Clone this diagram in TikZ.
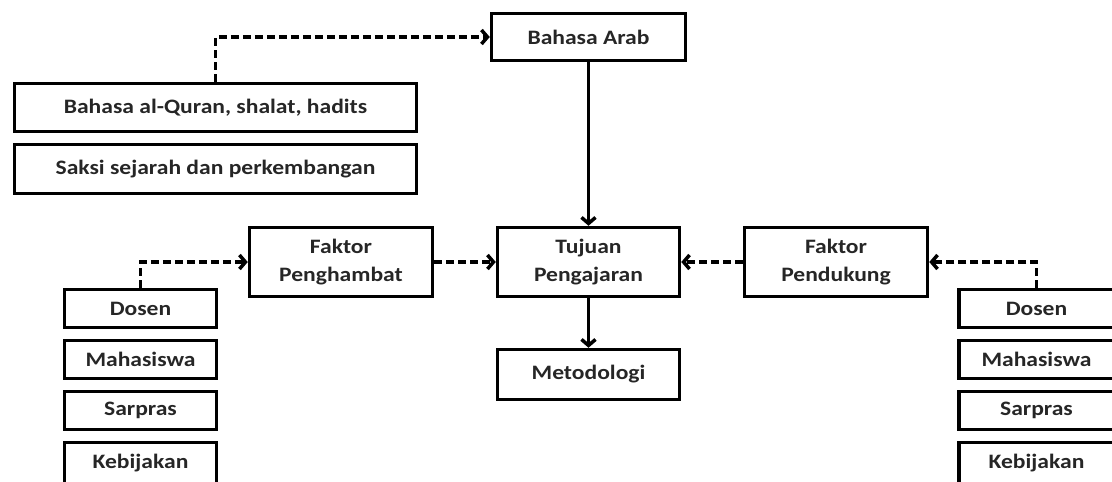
\documentclass[tikz,border=0pt]{standalone}
\usepackage{fontspec}
\setmainfont[FakeStretch=1.15, UprightFont=* Bold]{Carlito}
\usetikzlibrary{arrows.meta}
\begin{document}
\begin{tikzpicture}[x=1pt,y=-1pt,
  box/.style={draw=black, line width=3.5pt, rectangle, inner sep=0pt, align=center,
    font=\fontsize{20.5}{28}\selectfont, text=black!85},
  dashconn/.style={draw=black, line width=3.5pt, dash pattern=on 8pt off 4pt,
    -{Straight Barb[length=6pt,width=14pt,line width=3.5pt]}},
  solidconn/.style={draw=black, line width=3.5pt,
    -{Straight Barb[length=6pt,width=14pt,line width=3.5pt]}}]
\useasboundingbox (0,0) rectangle (1112,482);
\clip (0,0) rectangle (1112,482);
% main column
\node[box, minimum width=194pt, minimum height=47pt] (arab) at (588.5,37) {Bahasa Arab};
\node[box, minimum width=182pt, minimum height=69pt] (tujuan) at (588.5,262) {Tujuan\\Pengajaran};
\node[box, minimum width=182pt, minimum height=50pt] (metod) at (588.5,374.5) {Metodologi};
% upper left
\node[box, minimum width=402pt, minimum height=48pt] (quran) at (215.5,107.5) {Bahasa al-Quran, shalat, hadits};
\node[box, minimum width=402pt, minimum height=49pt] (saksi) at (215.5,169) {Saksi sejarah dan perkembangan};
% factors
\node[box, minimum width=183pt, minimum height=69pt] (pengh) at (341,262) {Faktor\\Penghambat};
\node[box, minimum width=183pt, minimum height=69pt] (pend) at (836,262) {Faktor\\Pendukung};
% left list
\node[box, minimum width=152pt, minimum height=38pt] (ld) at (140.5,308.5) {Dosen};
\node[box, minimum width=152pt, minimum height=38pt] (lm) at (140.5,359.5) {Mahasiswa};
\node[box, minimum width=152pt, minimum height=38pt] (ls) at (140.5,410.5) {Sarpras};
\node[box, minimum width=152pt, minimum height=42pt] (lk) at (140.5,463.5) {Kebijakan};
% right list
\node[box, minimum width=155pt, minimum height=38pt] (rd) at (1036.5,308.5) {Dosen};
\node[box, minimum width=155pt, minimum height=38pt] (rm) at (1036.5,359.5) {Mahasiswa};
\node[box, minimum width=155pt, minimum height=38pt] (rs) at (1036.5,410.5) {Sarpras};
\node[box, minimum width=155pt, minimum height=42pt] (rk) at (1036.5,463.5) {Kebijakan};
% connectors
\draw[dashconn] (quran.north) |- (arab.west);
\draw[solidconn] (arab.south) -- (tujuan.north);
\draw[solidconn] (tujuan.south) -- (metod.north);
\draw[dashconn] (ld.north) |- (pengh.west);
\draw[dashconn] (pengh.east) -- (tujuan.west);
\draw[dashconn] (rd.north) |- (pend.east);
\draw[dashconn] (pend.west) -- (tujuan.east);
\end{tikzpicture}
\end{document}
